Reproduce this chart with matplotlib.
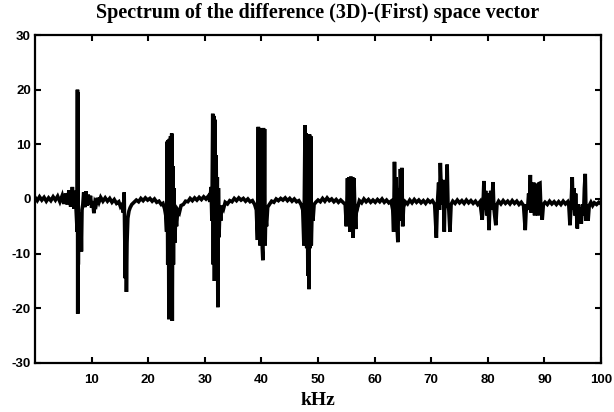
"""
Spectrum of the difference (3D)-(First) space vector,
redrawn from a scanned figure. Values are read off the scan.
"""

import matplotlib
matplotlib.use("Agg")
import matplotlib.pyplot as plt

# (kHz, amplitude) points of the trace
trace_0_12 = [(0.0, 0.3), (0.4, -0.3), (0.8, 0.4), (1.2, -0.2), (1.6, 0.3), (2.0, -0.4),
              (2.4, 0.2), (2.8, -0.3), (3.2, 0.4), (3.6, -0.2), (4.0, 0.5), (4.4, -0.5),
              (4.8, 0.6), (5.1, -0.9), (5.4, 1.0), (5.7, -1.0), (6.0, 1.6), (6.3, -1.4),
              (6.6, 2.2), (6.9, -1.8), (7.1, 1.5), (7.3, -3.0), (7.45, -6.0), (7.5, 20.0),
              (7.55, -21.0), (7.6, 19.5), (7.65, -12.0), (7.7, -4.0), (7.8, -9.0), (7.9, -2.5),
              (8.0, -9.5), (8.1, -3.0), (8.2, -9.6), (8.3, -2.0), (8.45, -1.0), (8.6, 1.2),
              (8.8, -1.5), (9.0, 1.4), (9.2, -1.2), (9.4, 0.8), (9.6, -1.0), (9.8, 0.6),
              (10.0, -1.6), (10.2, -0.4), (10.4, -2.6), (10.6, -0.6), (10.8, -1.0), (11.0, 0.2),
              (11.3, -0.6), (11.6, 0.3), (12.0, -0.4)]

trace_12_28 = [(12.4, 0.2), (12.8, -0.4), (13.2, 0.1), (13.6, -0.6), (14.0, -0.1), (14.4, -0.8),
               (14.8, -0.5), (15.1, -1.4), (15.4, -1.0), (15.6, -2.5), (15.75, 1.2), (15.85, -6.0),
               (15.95, -14.5), (16.05, -4.0), (16.15, -17.0), (16.25, -8.0), (16.4, -3.5),
               (16.6, -2.2), (16.8, -1.6), (17.1, -1.0), (17.5, -0.6), (17.9, -0.2), (18.3, -0.5),
               (18.7, 0.1), (19.1, -0.3), (19.5, 0.2), (19.9, -0.2), (20.3, 0.1), (20.7, -0.4),
               (21.1, 0.0), (21.5, -0.6), (21.9, -0.4), (22.3, -1.0), (22.6, -0.8), (22.9, -1.8),
               (23.1, -3.0), (23.25, -6.0), (23.35, 10.5), (23.45, -12.0), (23.55, 10.8),
               (23.65, -22.0), (23.75, 11.0), (23.85, -14.5), (23.95, 11.5), (24.05, -14.5),
               (24.15, 12.0), (24.25, -22.3), (24.35, 6.0), (24.45, -12.0), (24.55, 2.0),
               (24.7, -8.0), (24.85, -3.0), (25.0, -5.0), (25.2, -2.0), (25.5, -2.5), (25.8, -1.2),
               (26.2, -1.0), (26.6, -0.4), (27.0, -0.5), (27.4, 0.1), (27.8, -0.3)]

trace_28_44 = [(28.2, 0.2), (28.6, -0.2), (29.0, 0.3), (29.4, -0.1), (29.8, 0.4), (30.2, 0.0),
               (30.6, 0.5), (30.9, -0.5), (31.1, 2.2), (31.25, -4.0), (31.4, 15.6), (31.5, -12.0),
               (31.6, 15.2), (31.7, -15.0), (31.8, 14.5), (31.9, -6.0), (32.0, 8.0), (32.1, -12.0),
               (32.2, 4.0), (32.3, -19.8), (32.4, 2.0), (32.5, -7.0), (32.65, -2.0), (32.8, -4.0),
               (33.0, -1.2), (33.3, -1.8), (33.6, -0.6), (34.0, -0.9), (34.4, -0.3), (34.8, -0.5),
               (35.2, 0.1), (35.6, -0.3), (36.0, 0.2), (36.4, -0.2), (36.8, 0.1), (37.2, -0.4),
               (37.6, 0.0), (38.0, -0.5), (38.4, -0.3), (38.8, -1.0), (39.1, -2.0), (39.3, -7.5),
               (39.45, 13.2), (39.55, -5.0), (39.65, 13.0), (39.75, -8.5), (39.85, 9.0),
               (39.95, -7.0), (40.05, 12.0), (40.15, -9.0), (40.25, -11.2), (40.35, 13.0),
               (40.45, -6.0), (40.55, 12.8), (40.65, -8.5), (40.75, -3.0), (40.9, -5.0),
               (41.1, -1.5), (41.4, -1.0), (41.8, -0.4), (42.2, -0.6), (42.6, 0.0), (43.0, -0.3),
               (43.4, 0.1), (43.8, -0.2)]

trace_44_60 = [(44.2, 0.2), (44.6, -0.3), (45.0, 0.1), (45.4, -0.4), (45.8, 0.0), (46.2, -0.5),
               (46.6, -0.3), (47.0, -1.0), (47.3, -2.0), (47.5, -8.5), (47.6, 3.0), (47.7, 13.5),
               (47.8, -6.0), (47.9, 12.0), (48.0, -9.0), (48.1, 6.0), (48.2, -14.0), (48.3, 4.0),
               (48.4, -16.5), (48.5, 11.8), (48.6, -9.0), (48.7, 11.5), (48.8, -8.5), (48.95, -2.0),
               (49.1, -4.0), (49.3, -1.0), (49.6, -0.6), (50.0, -0.2), (50.4, -0.5), (50.8, 0.1),
               (51.2, -0.4), (51.6, 0.2), (52.0, -0.3), (52.4, 0.0), (52.8, -0.5), (53.2, -0.1),
               (53.6, -0.6), (54.0, -0.2), (54.4, -0.6), (54.8, -1.0), (55.0, -5.0), (55.2, 3.8),
               (55.35, -4.0), (55.5, 4.0), (55.65, -6.0), (55.8, 4.1), (55.95, -3.0), (56.1, 4.0),
               (56.2, -7.1), (56.35, 3.8), (56.5, -2.0), (56.65, -5.5), (56.8, -1.0), (57.0, -1.5),
               (57.3, -0.3), (57.7, -0.7), (58.1, 0.0), (58.5, -0.5), (58.9, -0.1), (59.3, -0.6),
               (59.7, -0.2)]

trace_60_79 = [(60.1, -0.6), (60.5, -0.1), (60.9, -0.5), (61.3, 0.0), (61.7, -0.6), (62.1, -0.2),
               (62.5, -0.7), (62.9, -0.4), (63.2, -2.0), (63.35, -6.0), (63.5, 6.8), (63.65, -3.0),
               (63.8, 4.0), (64.0, -6.0), (64.1, -7.9), (64.25, 2.0), (64.4, -4.0), (64.55, 5.5),
               (64.7, -1.0), (64.8, 5.7), (64.95, -5.0), (65.1, -1.5), (65.4, -0.5), (65.8, -0.9),
               (66.2, -0.2), (66.6, -0.7), (67.0, -0.1), (67.4, -0.6), (67.8, -0.2), (68.2, -0.7),
               (68.6, -0.3), (69.0, -0.8), (69.4, -0.2), (69.8, -0.6), (70.2, -0.3), (70.6, -1.0),
               (70.9, -7.1), (71.05, -1.5), (71.3, 3.0), (71.45, -2.0), (71.6, 6.6), (71.75, 2.0),
               (71.9, -1.0), (72.1, 3.5), (72.3, -6.0), (72.45, 2.5), (72.6, -1.5), (72.8, 6.3),
               (72.95, -1.0), (73.1, -2.0), (73.3, -6.0), (73.5, -1.0), (73.8, -0.4), (74.2, -0.8),
               (74.6, -0.2), (75.0, -0.7), (75.4, -0.3), (75.8, -0.8), (76.2, -0.2), (76.6, -0.7),
               (77.0, -0.3), (77.4, -0.8), (77.8, -0.4), (78.2, -1.0), (78.6, -0.5)]

trace_79_100 = [(79.0, -3.8), (79.15, -1.0), (79.3, 3.3), (79.45, -2.0), (79.6, 1.5), (79.8, -3.0),
                (80.0, 1.0), (80.2, -5.7), (80.35, -1.0), (80.5, 1.5), (80.7, -2.0), (80.9, 3.1),
                (81.05, -1.5), (81.2, -3.0), (81.4, -4.8), (81.6, -1.0), (81.9, -0.4), (82.3, -0.9),
                (82.7, -0.3), (83.1, -0.8), (83.5, -0.4), (83.9, -0.9), (84.3, -0.3), (84.7, -0.8),
                (85.1, -0.4), (85.5, -1.0), (85.9, -0.6), (86.3, -1.2), (86.6, -5.7), (86.8, -1.0),
                (87.0, -2.0), (87.2, 1.0), (87.35, -1.0), (87.5, 4.4), (87.65, -2.5), (87.8, 2.5),
                (87.95, -2.0), (88.1, 3.0), (88.25, -3.0), (88.4, 2.8), (88.55, -2.5), (88.7, 2.5),
                (88.85, -3.0), (89.0, 2.8), (89.2, 2.9), (89.35, -1.5), (89.6, -3.8), (89.8, -1.0),
                (90.1, -0.6), (90.5, -1.0), (90.9, -0.4), (91.3, -0.9), (91.7, -0.5), (92.1, -1.0),
                (92.5, -0.5), (92.9, -1.0), (93.3, -0.4), (93.7, -0.9), (94.1, -0.5), (94.3, -1.2),
                (94.5, -4.8), (94.7, -1.0), (94.9, 4.0), (95.05, -2.0), (95.2, 2.0), (95.35, -3.0),
                (95.5, 1.0), (95.65, -2.5), (95.8, -5.4), (95.95, -1.0), (96.1, -3.5), (96.3, -1.5),
                (96.5, -4.5), (96.7, -1.0), (96.9, -3.0), (97.05, 2.0), (97.2, 4.6), (97.35, -4.0),
                (97.5, -1.0), (97.7, -4.0), (97.9, -1.2), (98.2, -0.6), (98.5, -1.2), (98.8, -0.7),
                (99.2, -1.0), (99.6, -0.6), (100.0, -0.9)]

x_ticks = [10, 20, 30, 40, 50, 60, 70, 80, 90, 100]
y_ticks = [-30, -20, -10, 0, 10, 20, 30]


def plot_spectrum():
    """ Draws the difference spectrum and saves <out.png>. """
    plt.rcParams["axes.unicode_minus"] = False  # plain hyphen minus, as in the scan

    trace = trace_0_12 + trace_12_28 + trace_28_44 + trace_44_60 + trace_60_79 + trace_79_100
    khz = [p[0] for p in trace]
    amp = [p[1] for p in trace]

    fig = plt.figure(figsize=(6.14, 4.12), dpi=100)
    ax = fig.add_axes([0.057, 0.119, 0.922, 0.796])

    ax.plot(khz, amp, color="black", linewidth=2.6, solid_joinstyle="miter")

    ax.set_xlim(0, 100)
    ax.set_ylim(-30, 30)
    ax.set_xticks(x_ticks)
    ax.set_yticks(y_ticks)
    ax.tick_params(direction="in", length=4, width=1.5, top=True, right=True, labelsize=9.5)
    ax.tick_params(axis="x", pad=8)
    ax.tick_params(axis="y", pad=3)
    for lab in ax.get_xticklabels() + ax.get_yticklabels():
        lab.set_fontfamily("Liberation Sans")
        lab.set_fontweight("bold")
    for sp in ax.spines.values():
        sp.set_linewidth(1.6)

    ax.set_title("Spectrum of the difference (3D)-(First) space vector",
                 family="Liberation Serif", fontsize=14.5, fontweight="bold", pad=12)
    ax.set_xlabel("kHz", family="Liberation Serif", fontsize=14, fontweight="bold",
                  labelpad=4)

    fig.savefig("out.png", dpi=100)


if __name__ == "__main__":
    plot_spectrum()
